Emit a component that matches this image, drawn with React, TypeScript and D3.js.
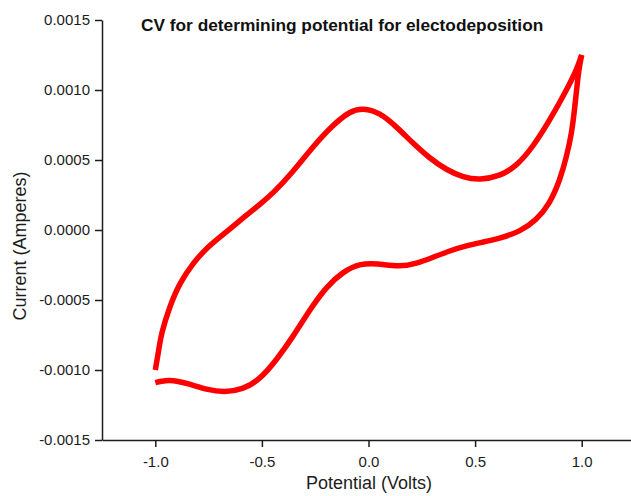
import * as d3 from "d3";
import { useEffect, useRef } from "react";

// forward scan (-1.0 V -> +1.0 V)
const fwdV = [-1.0, -0.985, -0.972, -0.933, -0.887, -0.824, -0.754, -0.675, -0.581, -0.503, -0.448, -0.354, -0.261, -0.167, -0.088, -0.026, 0.053, 0.131, 0.209, 0.287, 0.366, 0.444, 0.522, 0.616, 0.694, 0.772, 0.851, 0.929, 0.975, 1.0];
const fwdI = [-0.001, -0.00087, -0.000738, -0.000548, -0.000381, -0.000238, -0.000119, -0.000024, 0.000095, 0.000191, 0.000262, 0.000416, 0.000595, 0.00075, 0.000848, 0.000872, 0.000838, 0.000738, 0.000619, 0.000512, 0.000429, 0.000376, 0.000357, 0.000385, 0.000455, 0.000595, 0.000786, 0.001, 0.00114, 0.00125];

// reverse scan (+1.0 V -> -1.0 V)
const revV = [1.0, 0.992, 0.984, 0.968, 0.953, 0.929, 0.898, 0.851, 0.788, 0.71, 0.616, 0.538, 0.46, 0.381, 0.303, 0.225, 0.146, 0.037, -0.041, -0.12, -0.198, -0.276, -0.354, -0.432, -0.511, -0.591, -0.675, -0.761, -0.839, -0.919, -0.975, -1.0];
const revI = [0.00125, 0.00119, 0.00112, 0.00088, 0.00069, 0.000524, 0.000357, 0.00019, 0.000071, -0.000012, -0.000059, -0.000086, -0.000112, -0.000148, -0.000195, -0.00024, -0.000264, -0.000238, -0.00024, -0.000298, -0.000405, -0.000571, -0.000762, -0.000929, -0.00107, -0.00114, -0.00116, -0.00114, -0.0011, -0.00107, -0.00108, -0.00109];

const xMajor = [-1.0, -0.5, 0.0, 0.5, 1.0];
const xMinor = [-1.25, -0.75, -0.25, 0.25, 0.75, 1.25];
const yMajor = [-0.0015, -0.001, -0.0005, 0.0, 0.0005, 0.001, 0.0015];
const yMinor = [-0.00125, -0.00075, -0.00025, 0.00025, 0.00075, 0.00125];

const title = "CV for determining potential for electodeposition";
const xTitle = "Potential (Volts)";
const yTitle = "Current (Amperes)";

export default function App() {
  const svgRef = useRef(null);

  useEffect(() => {
    const W = 631, H = 496;
    const svg = d3.select(svgRef.current).attr("width", W).attr("height", H);
    svg.selectAll("*").remove();

    const x = d3.scaleLinear().domain([-1.25, 1.25]).range([102, 635]);
    const y = d3.scaleLinear().domain([-0.0015, 0.0015]).range([440, 20]);
    const font = "Liberation Sans, Arial, sans-serif";
    const ink = "#1c1c1c";

    // curves
    const line = d3
      .line<[number, number]>()
      .x((d) => x(d[0]))
      .y((d) => y(d[1]))
      .curve(d3.curveBasis);
    const fwd = fwdV.map((v, i) => [v, fwdI[i]] as [number, number]);
    const rev = revV.map((v, i) => [v, revI[i]] as [number, number]);
    [fwd, rev].forEach((pts) => {
      svg
        .append("path")
        .attr("d", line(pts))
        .attr("fill", "none")
        .attr("stroke", "#ff0000")
        .attr("stroke-width", 5.5)
        .attr("stroke-linejoin", "miter");
    });

    // x axis
    const gx = svg.append("g").attr("transform", "translate(0,440)");
    gx.call(d3.axisBottom(x).tickValues(xMinor).tickSize(4).tickSizeOuter(0).tickFormat(() => ""));
    gx.call(d3.axisBottom(x).tickValues(xMajor).tickSize(7).tickSizeOuter(0).tickPadding(9).tickFormat(d3.format(".1f")));
    gx.selectAll("path,line").attr("stroke", ink).attr("stroke-width", 1.5);
    gx.selectAll("text").attr("font-family", font).attr("font-size", 15).attr("fill", ink);

    // y axis
    const gy = svg.append("g").attr("transform", "translate(102,0)");
    gy.call(d3.axisLeft(y).tickValues(yMinor).tickSize(4).tickSizeOuter(0).tickFormat(() => ""));
    gy.call(d3.axisLeft(y).tickValues(yMajor).tickSize(7).tickSizeOuter(0).tickPadding(5).tickFormat(d3.format(".4f")));
    gy.selectAll("path,line").attr("stroke", ink).attr("stroke-width", 1.5);
    gy.selectAll("text").attr("font-family", font).attr("font-size", 15).attr("fill", ink);
    gy.selectAll("text").text((d) => d3.format(".4f")(d as number).replace("−", "-"));
    gx.selectAll("text").text((d) => d3.format(".1f")(d as number).replace("−", "-"));

    // titles
    svg
      .append("text")
      .attr("x", 141)
      .attr("y", 31)
      .attr("font-family", font)
      .attr("font-weight", "bold")
      .attr("font-size", 17.3)
      .attr("fill", "#111")
      .text(title);
    svg
      .append("text")
      .attr("x", 369)
      .attr("y", 489)
      .attr("text-anchor", "middle")
      .attr("font-family", font)
      .attr("font-size", 18)
      .attr("fill", ink)
      .text(xTitle);
    svg
      .append("text")
      .attr("transform", "translate(26,246) rotate(-90)")
      .attr("text-anchor", "middle")
      .attr("font-family", font)
      .attr("font-size", 18)
      .attr("fill", ink)
      .text(yTitle);
  }, []);

  return (
    <div style={{ position: "absolute", left: 0, top: 0 }}>
      <svg ref={svgRef} style={{ display: "block", background: "#fff" }}></svg>
    </div>
  );
}
